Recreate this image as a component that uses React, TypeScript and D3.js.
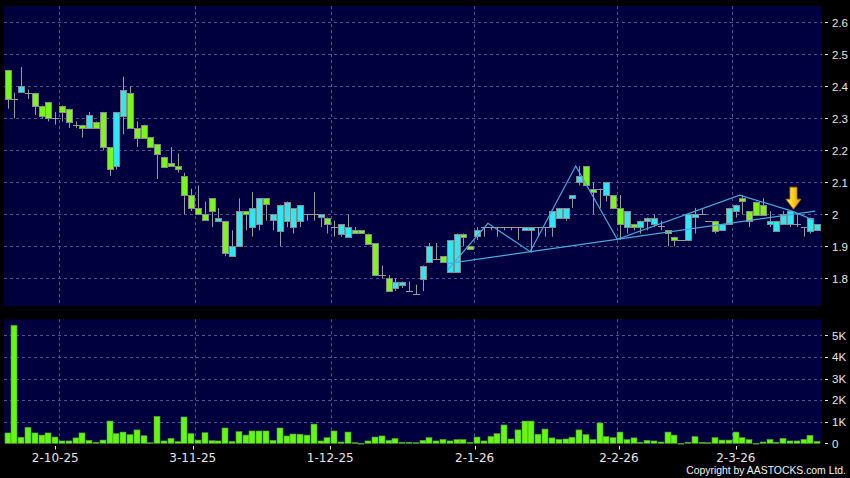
import React from "react";
import * as d3 from "d3";

// ---- Data ----
const opens = [
  2.45, 2.36, 2.38, 2.38, 2.38, 2.34, 2.35, 2.30, 2.34, 2.33,
  2.28, 2.28, 2.27, 2.29, 2.32, 2.21, 2.15, 2.31, 2.38, 2.27,
  2.28, 2.24, 2.22, 2.18, 2.16, 2.15, 2.12, 2.06, 2.02, 2.00,
  2.05, 1.98, 1.98, 1.87, 1.90, 2.01, 1.96, 1.97, 2.05, 1.98,
  1.95, 1.98, 1.96, 1.98, 2.00, 2.00, 1.99, 1.99, 1.96, 1.94,
  1.93, 1.95, 1.95, 1.94, 1.91, 1.81, 1.80, 1.77, 1.78, 1.76,
  1.75, 1.80, 1.85, 1.86, 1.87, 1.82, 1.82, 1.94, 1.90, 1.93,
  1.96, 1.96, 1.96, 1.96, 1.96, 1.96, 1.95, 1.95, 1.96, 1.96,
  1.96, 1.99, 1.99, 2.05, 2.10, 2.15, 2.08, 2.08, 2.06, 2.06,
  2.02, 1.96, 1.97, 1.96, 1.98, 1.97, 1.965, 1.95, 1.93, 1.92,
  1.92, 1.99, 2.00, 1.98, 1.98, 1.95, 1.97, 2.01, 2.05, 2.01,
  2.04, 2.03, 1.97, 1.95, 1.97, 1.97, 1.97, 1.96, 1.95, 1.95,
];
const highs = [
  2.45, 2.38, 2.46, 2.39, 2.38, 2.34, 2.35, 2.32, 2.34, 2.33,
  2.29, 2.28, 2.32, 2.29, 2.32, 2.21, 2.32, 2.43, 2.40, 2.29,
  2.28, 2.24, 2.22, 2.18, 2.21, 2.19, 2.13, 2.08, 2.09, 2.04,
  2.05, 2.02, 1.98, 1.95, 2.05, 2.01, 2.07, 2.05, 2.05, 2.00,
  2.03, 2.04, 2.02, 2.03, 2.00, 2.07, 2.00, 1.99, 1.98, 1.97,
  2.00, 1.96, 1.95, 1.94, 1.91, 1.84, 1.81, 1.80, 1.79, 1.79,
  1.78, 1.84, 1.91, 1.91, 1.87, 1.92, 1.94, 1.94, 1.90, 1.96,
  1.96, 1.96, 1.96, 1.96, 1.96, 1.96, 1.96, 1.96, 1.96, 1.96,
  2.01, 2.02, 2.02, 2.06, 2.15, 2.15, 2.10, 2.08, 2.10, 2.06,
  2.06, 2.01, 1.97, 1.98, 1.99, 2.00, 1.98, 1.95, 1.93, 1.92,
  2.00, 2.02, 2.02, 1.98, 1.98, 1.97, 2.02, 2.03, 2.06, 2.01,
  2.04, 2.05, 2.01, 1.98, 2.01, 2.01, 2.00, 1.96, 1.99, 1.97,
];
const lows = [
  2.33, 2.30, 2.38, 2.36, 2.31, 2.30, 2.29, 2.28, 2.29, 2.27,
  2.27, 2.24, 2.27, 2.27, 2.20, 2.12, 2.14, 2.25, 2.27, 2.21,
  2.24, 2.21, 2.11, 2.15, 2.15, 2.13, 2.00, 2.01, 2.00, 1.98,
  1.96, 1.98, 1.87, 1.87, 1.90, 1.95, 1.93, 1.95, 1.98, 1.95,
  1.90, 1.96, 1.94, 1.96, 1.98, 1.98, 1.96, 1.94, 1.93, 1.93,
  1.93, 1.94, 1.94, 1.91, 1.81, 1.80, 1.76, 1.76, 1.77, 1.76,
  1.75, 1.76, 1.85, 1.86, 1.85, 1.82, 1.82, 1.90, 1.89, 1.92,
  1.93, 1.95, 1.93, 1.95, 1.95, 1.92, 1.95, 1.88, 1.93, 1.93,
  1.93, 1.99, 1.98, 2.02, 2.09, 2.09, 2.00, 2.02, 2.04, 2.02,
  1.92, 1.94, 1.95, 1.94, 1.95, 1.96, 1.95, 1.90, 1.90, 1.92,
  1.92, 1.94, 2.00, 1.98, 1.94, 1.95, 1.97, 1.99, 2.00, 1.96,
  2.00, 2.00, 1.96, 1.95, 1.97, 1.96, 1.96, 1.93, 1.94, 1.95,
];
const closes = [
  2.36, 2.36, 2.40, 2.38, 2.34, 2.31, 2.30, 2.30, 2.32, 2.29,
  2.28, 2.27, 2.31, 2.27, 2.21, 2.14, 2.32, 2.39, 2.27, 2.24,
  2.24, 2.21, 2.19, 2.15, 2.15, 2.14, 2.06, 2.02, 2.00, 1.98,
  2.01, 1.99, 1.88, 1.90, 2.01, 2.00, 2.02, 2.05, 2.03, 2.00,
  2.03, 2.04, 2.02, 2.03, 2.00, 2.00, 2.00, 1.97, 1.96, 1.97,
  1.96, 1.94, 1.94, 1.91, 1.81, 1.81, 1.76, 1.79, 1.79, 1.76,
  1.75, 1.84, 1.90, 1.86, 1.85, 1.92, 1.94, 1.93, 1.89, 1.95,
  1.96, 1.96, 1.96, 1.96, 1.96, 1.96, 1.96, 1.96, 1.96, 1.96,
  2.01, 2.02, 2.02, 2.06, 2.12, 2.09, 2.07, 2.08, 2.10, 2.02,
  1.97, 2.01, 1.96, 1.98, 1.99, 1.99, 1.965, 1.94, 1.92, 1.92,
  2.00, 2.00, 2.00, 1.98, 1.95, 1.97, 2.02, 2.03, 2.04, 1.98,
  2.00, 2.00, 1.98, 1.98, 2.00, 2.01, 1.97, 1.96, 1.99, 1.97,
];
const volumes = [
  480, 5460, 280, 740, 480, 380, 480, 290, 110, 110,
  250, 480, 140, 50, 150, 1030, 450, 520, 400, 620,
  350, 30, 1250, 110, 230, 80, 1220, 450, 150, 490,
  120, 110, 710, 90, 540, 380, 570, 570, 570, 140,
  710, 340, 430, 420, 380, 890, 110, 260, 570, 60,
  520, 30, 0, 110, 290, 340, 140, 220, 50, 50,
  30, 140, 260, 110, 180, 110, 170, 170, 50, 290,
  110, 320, 450, 850, 200, 620, 1030, 1030, 420, 660,
  250, 180, 200, 280, 620, 400, 170, 940, 310, 260,
  520, 170, 250, 50, 140, 110, 60, 520, 380, 0,
  50, 310, 50, 30, 260, 150, 150, 520, 260, 170,
  0, 60, 180, 50, 230, 110, 110, 180, 370, 90,
];
const dateLabels = ["2-10-25", "3-11-25", "1-12-25", "2-1-26", "2-2-26", "2-3-26"];
const monthStartIdx = [8, 28, 48, 69, 90, 107];
const priceTicks = [1.8, 1.9, 2.0, 2.1, 2.2, 2.3, 2.4, 2.5, 2.6];
const priceTickLabels = ["1.8", "1.9", "2", "2.1", "2.2", "2.3", "2.4", "2.5", "2.6"];
const volTicks = [0, 1000, 2000, 3000, 4000, 5000];
const volTickLabels = ["0", "1K", "2K", "3K", "4K", "5K"];
// pattern lines: [candle index, price]
const zigzag: [number, number][] = [
  [64.6, 1.824], [70.6, 1.972], [76.8, 1.883], [83.5, 2.151],
  [89.6, 1.922], [107.6, 2.060], [115.3, 2.010], [118.4, 1.982],
];
const trendLine: [number, number][] = [[64.6, 1.846], [118.7, 2.010]];
const signalArrow = { idx: 115.5, price: 2.016 };

const W = 850;
const H = 478;
const N = closes.length;

const xScale = d3.scaleLinear().domain([0, N - 1]).range([7.5, 817.3]);
const labelScale = d3.scaleLinear().domain([0, N - 1]).range([0.3, 818.3]);
const yPrice = d3.scaleLinear().domain([1.8, 2.6]).range([278.3, 22.3]);
const yVol = d3.scaleLinear().domain([0, 5000]).range([443.3, 335.3]);

const PL = 4, PR = 822;
const PT = 6, PB = 306;
const VT = 319.3, VB = 443.5;

const BG = "#00003f";
const GRID = "#54548c";
const GREEN = "#7cf51c";
const CYAN = "#30e6f2";
const WICK = "#9a9a9a";
const TXT = "#e6e6e6";
const LINE = "#4fa6dc";
const FONT = "'DejaVu Sans', Verdana, sans-serif";
const FONT2 = "'Liberation Sans', Arial, sans-serif";

export default function App() {
  const line = d3
    .line<[number, number]>()
    .x((d) => xScale(d[0]))
    .y((d) => yPrice(d[1]));

  const ax = xScale(signalArrow.idx);
  const ay = yPrice(signalArrow.price);

  return (
    <svg
      width={W}
      height={H}
      style={{ position: "absolute", left: 0, top: 0, display: "block" }}
    >
      <defs>
        <linearGradient id="arrowGrad" x1="0" x2="1" y1="0" y2="0">
          <stop offset="0" stopColor="#fff27a" />
          <stop offset="0.45" stopColor="#ffd21a" />
          <stop offset="1" stopColor="#e89400" />
        </linearGradient>
      </defs>
      <rect x={0} y={0} width={W} height={H} fill="#000" />

      {/* price panel */}
      <rect x={PL} y={PT} width={PR - PL} height={PB - PT} fill={BG} />
      {priceTicks.map((t) => (
        <line
          key={"pg" + t}
          x1={PL}
          x2={PR}
          y1={Math.round(yPrice(t)) + 0.5}
          y2={Math.round(yPrice(t)) + 0.5}
          stroke={GRID}
          strokeDasharray="3,3"
        />
      ))}
      {monthStartIdx.map((m) => {
        const gx = Math.round(xScale(m - 0.5)) + 0.5;
        return (
          <line key={"vg" + m} x1={gx} x2={gx} y1={PT} y2={PB} stroke={GRID} strokeDasharray="3,3" />
        );
      })}

      {/* candles */}
      {closes.map((c, i) => {
        const o = opens[i];
        const cx = Math.round(xScale(i)) + 0.5;
        const up = c > o;
        const top = yPrice(Math.max(o, c));
        const bot = yPrice(Math.min(o, c));
        return (
          <g key={"c" + i}>
            <line x1={cx} x2={cx} y1={yPrice(highs[i])} y2={yPrice(lows[i])} stroke={WICK} strokeWidth={1} />
            {o === c ? (
              <line x1={cx - 3.5} x2={cx + 3.5} y1={Math.round(top) + 0.5} y2={Math.round(top) + 0.5} stroke={WICK} strokeWidth={1} />
            ) : (
              <rect
                x={cx - 3}
                y={Math.round(top) + 0.5}
                width={6}
                height={Math.max(2, Math.round(bot - top))}
                fill={up ? CYAN : GREEN}
                stroke="#8a8a8a"
                strokeWidth={1}
              />
            )}
          </g>
        );
      })}

      {/* pattern lines */}
      <path d={line(zigzag) || ""} fill="none" stroke={LINE} strokeWidth={1.2} />
      <path d={line(trendLine) || ""} fill="none" stroke={LINE} strokeWidth={1.2} />

      {/* signal arrow */}
      <path
        d={`M${ax - 3.5},${ay - 22} L${ax + 3.5},${ay - 22} L${ax + 3.5},${ay - 10} L${ax + 7.5},${ay - 10} L${ax},${ay} L${ax - 7.5},${ay - 10} L${ax - 3.5},${ay - 10} Z`}
        fill="url(#arrowGrad)"
        stroke="#c07a00"
        strokeWidth={0.8}
      />

      {/* price axis labels */}
      {priceTicks.map((t, k) => (
        <g key={"pl" + t}>
          <line x1={825} x2={828} y1={Math.round(yPrice(t)) + 0.5} y2={Math.round(yPrice(t)) + 0.5} stroke={TXT} />
          <text x={832} y={yPrice(t) + 4.2} fill={TXT} fontSize={11.5} fontFamily={FONT2}>
            {priceTickLabels[k]}
          </text>
        </g>
      ))}

      {/* volume panel */}
      <rect x={PL} y={VT} width={PR - PL} height={VB - VT} fill={BG} />
      {volTicks.slice(1).map((t) => (
        <line
          key={"vgl" + t}
          x1={PL}
          x2={PR}
          y1={Math.round(yVol(t)) + 0.5}
          y2={Math.round(yVol(t)) + 0.5}
          stroke={GRID}
          strokeDasharray="3,3"
        />
      ))}
      {monthStartIdx.map((m) => {
        const gx = Math.round(xScale(m - 0.5)) + 0.5;
        return <line key={"vg2" + m} x1={gx} x2={gx} y1={VT} y2={VB} stroke={GRID} strokeDasharray="3,3" />;
      })}
      {volumes.map((v, i) => {
        const cx = Math.round(xScale(i));
        const yv = yVol(v);
        return (
          <rect
            key={"v" + i}
            x={cx - 3}
            y={yv}
            width={6}
            height={Math.max(0.8, yVol(0) - yv)}
            fill="#66f614"
            stroke="#4f9a3a"
            strokeWidth={0.6}
          />
        );
      })}
      {volTicks.map((t, k) => (
        <g key={"vl" + t}>
          <line x1={825} x2={828} y1={Math.round(yVol(t)) + 0.5} y2={Math.round(yVol(t)) + 0.5} stroke={TXT} />
          <text x={832} y={yVol(t) + 4.2} fill={TXT} fontSize={11.5} fontFamily={FONT2}>
            {volTickLabels[k]}
          </text>
        </g>
      ))}

      {/* date axis */}
      {monthStartIdx.map((m, k) => {
        const lx = labelScale(m);
        return (
          <g key={"dl" + m}>
            <line x1={Math.round(lx) + 0.5} x2={Math.round(lx) + 0.5} y1={446} y2={449.5} stroke={TXT} />
            <text x={lx} y={461.5} fill={TXT} fontSize={12} fontFamily={FONT} textAnchor="middle">
              {dateLabels[k]}
            </text>
          </g>
        );
      })}

      <text x={846} y={474} fill="#f2f2f2" fontSize={10.4} fontFamily={FONT2} textAnchor="end">
        Copyright by AASTOCKS.com Ltd.
      </text>
    </svg>
  );
}
